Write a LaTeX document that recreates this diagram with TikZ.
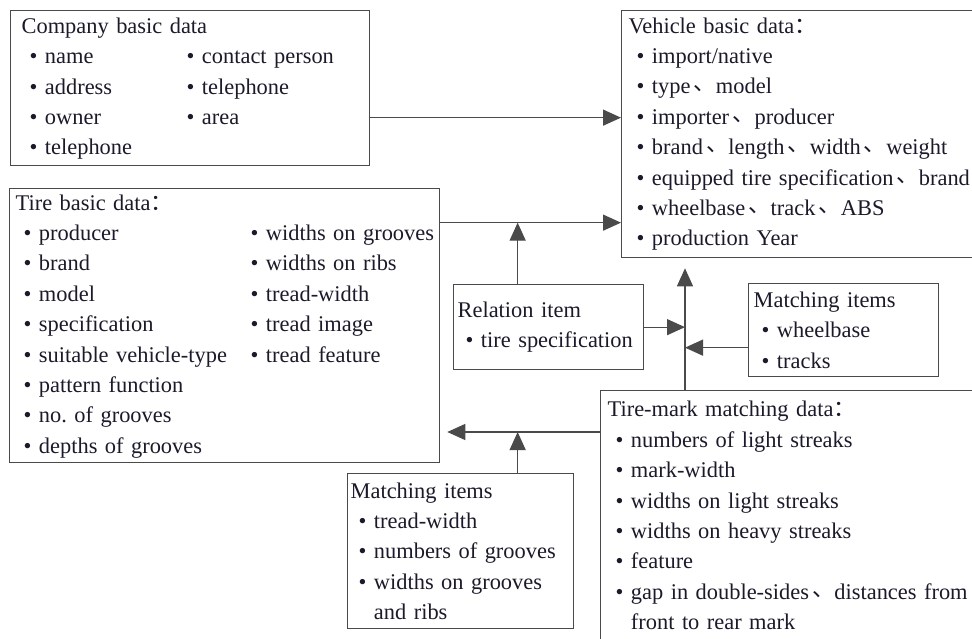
\documentclass[tikz,border=0pt]{standalone}
\usepackage{fontspec}
\setmainfont{Liberation Serif}
\newfontfamily\cjk{Noto Sans CJK SC}
\usetikzlibrary{arrows.meta}
\definecolor{Frame}{HTML}{4A4A4A}
\definecolor{Ink}{HTML}{1A1A2A}
\frenchspacing
\newcommand{\itm}{\hspace*{8bp}\textbullet\ }
\newcommand{\dunhao}{\hspace{3bp}\raisebox{3bp}{\cjk 、}}
\newcommand{\qcolon}{{\cjk ：}}
\tikzset{
  databox/.style={draw=Frame,line width=1.3bp,anchor=north west,align=left,inner xsep=6bp,inner ysep=0pt,text=Ink,font=\fontsize{22.5}{30.5}\selectfont},
  line/.style={-{Triangle[length=18bp,width=16bp]},draw=Frame,line width=1.3bp}
}

\begin{document}
\begin{tikzpicture}[x=1bp,y=-1bp]
  \useasboundingbox (0,0) rectangle (972,639);
  \clip (0,0) rectangle (972,639);
  \node[databox,inner xsep=11bp,text width=337bp,minimum height=155bp] (company) at (10,10) {
    \begin{tabular}{@{}p{157bp}@{}l@{}}
      \multicolumn{2}{@{}l@{}}{Company basic data}\\
      \itm name & \itm contact person\\
      \itm address & \itm telephone\\
      \itm owner & \itm area\\
      \itm telephone &
    \end{tabular}};
  \node[databox,inner xsep=7bp,text width=400bp,minimum height=247bp] (vehicle) at (621,10) {
    Vehicle basic data\qcolon\\
    \itm import/native\\
    \itm type\dunhao model\\
    \itm importer\dunhao producer\\
    \itm brand\dunhao length\dunhao width\dunhao weight\\
    \itm equipped tire specification\dunhao brand\\
    \itm wheelbase\dunhao track\dunhao ABS\\
    \itm production Year};
  \node[databox,text width=418bp,minimum height=274bp] (tire) at (9,188) {
    \begin{tabular}{@{}p{227bp}@{}l@{}}
      \multicolumn{2}{@{}l@{}}{Tire basic data\qcolon}\\
      \itm producer & \itm widths on grooves\\
      \itm brand & \itm widths on ribs\\
      \itm model & \itm tread-width\\
      \itm specification & \itm tread image\\
      \itm suitable vehicle-type & \itm tread feature\\
      \itm pattern function &\\
      \itm no. of grooves &\\
      \itm depths of grooves &
    \end{tabular}};
  \node[databox,inner xsep=4bp,text width=182bp,minimum height=85bp] (relation) at (453,284) {
    Relation item\\
    \itm tire specification};
  \node[databox,inner xsep=5bp,text width=180bp,minimum height=93bp] (matchv) at (748,283) {
    Matching items\\
    \itm wheelbase\\
    \itm tracks};
  \node[databox,inner xsep=7bp,text width=420bp,minimum height=250bp] (tmark) at (600,390) {
    Tire-mark matching data\qcolon\\
    \itm numbers of light streaks\\
    \itm mark-width\\
    \itm widths on light streaks\\
    \itm widths on heavy streaks\\
    \itm feature\\
    \itm gap in double-sides\dunhao distances from\\
    \hspace*{8bp}\phantom{\textbullet\ }front to rear mark};
  \node[databox,inner xsep=3bp,text width=220bp,minimum height=155bp] (matchb) at (347,473) {
    Matching items\\
    \itm tread-width\\
    \itm numbers of grooves\\
    \itm widths on grooves\\
    \hspace*{8bp}\phantom{\textbullet\ }and ribs};

  % connectors
  \coordinate (ca) at ([yshift=-29.5bp]company.east);
  \coordinate (tv) at ([yshift=103bp]tire.east);
  \coordinate (rn) at ([xshift=-31bp]relation.north);
  \coordinate (spine) at ([xshift=85bp]tmark.north west);
  \coordinate (mv) at ([yshift=-17.5bp]matchv.west);
  \coordinate (tt) at ([yshift=-42bp]tmark.north west);
  \coordinate (mb) at ([xshift=57bp]matchb.north);
  \draw[line] (ca) -- (ca -| vehicle.west);
  \draw[line] (tv) -- (tv -| vehicle.west);
  \draw[line] (rn) -- (rn |- tv);
  \draw[line,shorten >=10bp] (spine) -- (spine |- vehicle.south);
  \draw[line] (relation.east) -- (relation.east -| spine);
  \draw[line] (mv) -- (mv -| spine);
  \draw[line,shorten >=7bp] (tt) -- (tt -| tire.east);
  \draw[line] (mb) -- (mb |- tt);
\end{tikzpicture}
\end{document}
